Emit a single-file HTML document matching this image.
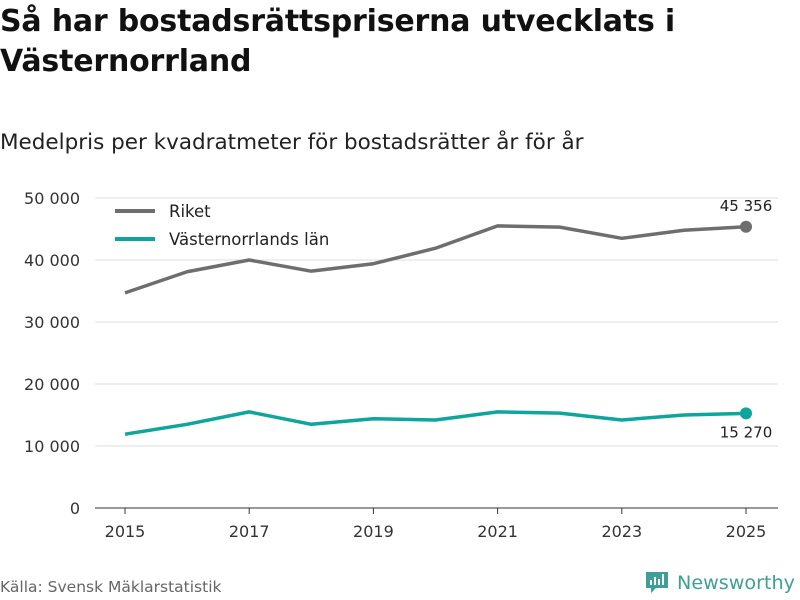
<!DOCTYPE html>
<html><head><meta charset="utf-8"><style>
body{margin:0;width:800px;height:600px;background:#fff;font-family:"DejaVu Sans","Liberation Sans",sans-serif;overflow:hidden;position:relative}
h1{position:absolute;left:0;top:2px;margin:0;font-size:30px;line-height:40px;font-weight:bold;color:#111;letter-spacing:-0.2px}
.sub{position:absolute;left:0;top:130px;font-size:21.5px;color:#222}
.src{position:absolute;left:0;top:578px;font-size:15.5px;color:#666}
</style></head><body>
<h1>Så har bostadsrättspriserna utvecklats i<br>Västernorrland</h1>
<div class="sub">Medelpris per kvadratmeter för bostadsrätter år för år</div>
<div class="src">Källa: Svensk Mäklarstatistik</div>
<svg id="c" width="800" height="600" style="position:absolute;left:0;top:0"></svg>
<script>
const years=[2015,2016,2017,2018,2019,2020,2021,2022,2023,2024,2025];
const riket=[34700,38100,40000,38200,39400,41900,45500,45300,43500,44800,45356];
const vast=[11900,13500,15500,13500,14400,14200,15500,15300,14200,15000,15270];
const yTicks=[0,10000,20000,30000,40000,50000];
const xTicks=[2015,2017,2019,2021,2023,2025];
const ns="http://www.w3.org/2000/svg";
const svg=document.getElementById('c');
const X=y=>125+(y-2015)*62.1;
const Y=v=>508-v*0.0062;
const fmt=v=>String(Math.round(v)).replace(/\B(?=(\d{3})+(?!\d))/g,' ');
function el(t,a,p){const e=document.createElementNS(ns,t);for(const k in a)e.setAttribute(k,a[k]);(p||svg).appendChild(e);return e;}
yTicks.forEach(v=>{
 const g=el('line',{x1:95,x2:778,y1:Y(v),y2:Y(v),stroke:v===0?'#333':'#ddd','stroke-width':1});
 
 
 const t=el('text',{x:80,y:Y(v)+6,'text-anchor':'end','font-size':16,fill:'#333'});
 t.textContent=fmt(v);
 
 
});
xTicks.forEach(v=>{
 const l=el('line',{x1:X(v),x2:X(v),y1:508,y2:514,stroke:'#333'});
 
 
 const t=el('text',{x:X(v),y:537,'text-anchor':'middle','font-size':16,fill:'#333'});
 t.textContent=v;
 
 
});
function series(vals,color,name,labelDy){
 const p=el('polyline',{points:vals.map((v,i)=>X(years[i])+','+Y(v)).join(' '),fill:'none',stroke:color,'stroke-width':3.5,'stroke-linejoin':'round'});
 
 
 const last=vals.length-1;
 const c=el('circle',{cx:X(years[last]),cy:Y(vals[last]),r:6,fill:color});
 
 
 const t=el('text',{x:X(years[last]),y:Y(vals[last])+labelDy,'text-anchor':'middle','font-size':15,fill:'#222'});
 t.textContent=fmt(vals[last]);
 
 
}
series(riket,'#6e6e6e','riket',-16);
series(vast,'#0ea59c','vasternorrland',24);
[['Riket','#6e6e6e',211],['Västernorrlands län','#0ea59c',239]].forEach(([n,c,y])=>{
 const l=el('line',{x1:115,x2:155,y1:y,y2:y,stroke:c,'stroke-width':4});
 
 
 const t=el('text',{x:169,y:y+6,'font-size':16.5,fill:'#222'});
 t.textContent=n;
 
 
});
const lg=el('g',{});


el('path',{d:'M646 572h22v16h-12l-5 5v-5h-5z',fill:'#3f9e96'},lg);
el('rect',{x:650,y:580,width:2,height:5,fill:'#fff'},lg);
el('rect',{x:654,y:577,width:2,height:8,fill:'#fff'},lg);
el('rect',{x:658,y:579,width:2,height:6,fill:'#fff'},lg);
el('rect',{x:662,y:574,width:2,height:11,fill:'#fff'},lg);
const lt=el('text',{x:677,y:589,'font-size':19,fill:'#3f9e96',textLength:118,lengthAdjust:'spacingAndGlyphs'},lg);
lt.textContent='Newsworthy';
</script>
</body></html>
